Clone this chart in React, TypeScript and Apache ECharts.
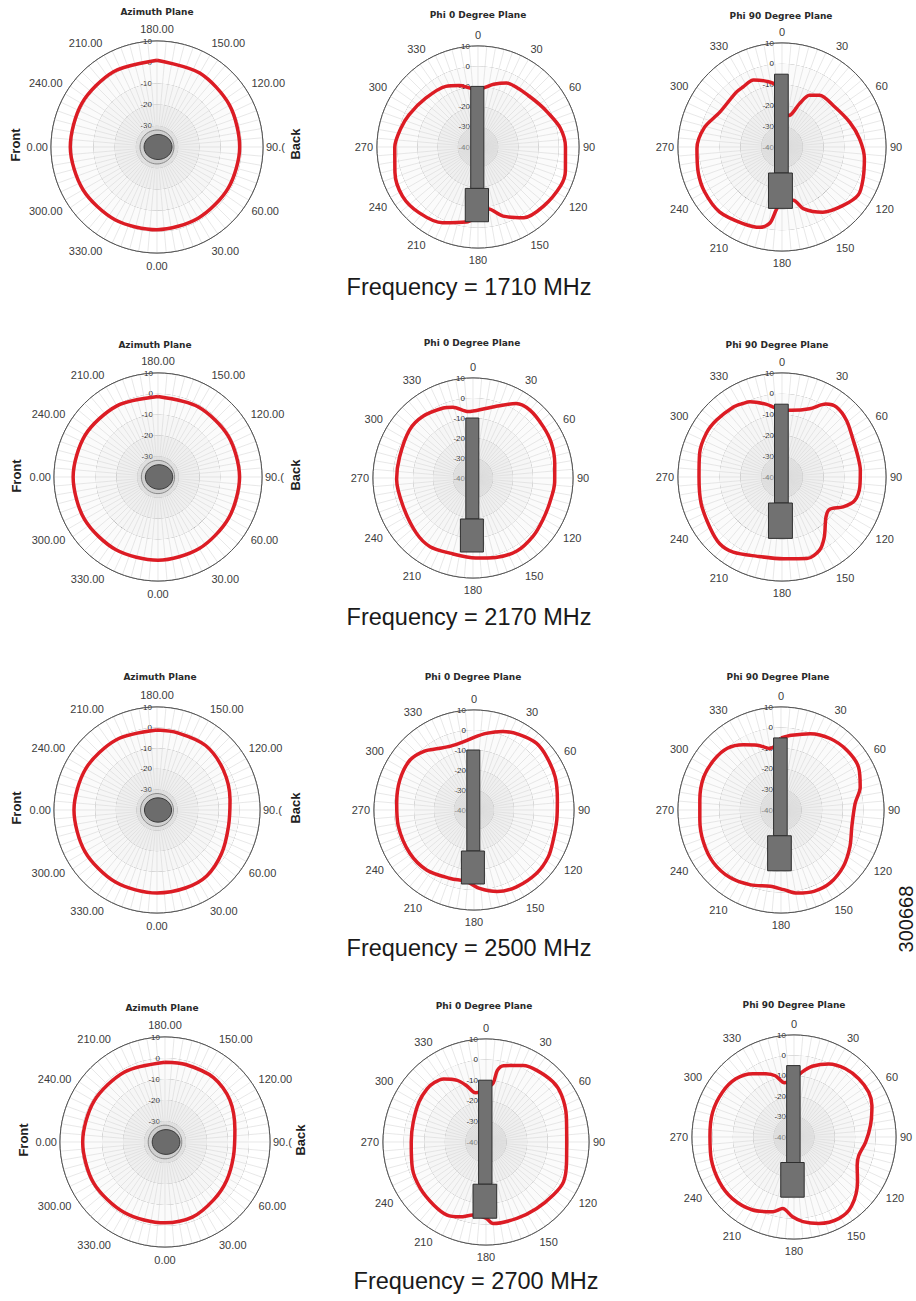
import React, { useEffect, useRef } from "react";
import * as echarts from "echarts";

type Pt = [number, number]; // [angle in degrees, gain in dB]

// ---------- text / categories ----------
const FREQUENCIES = ["1710", "2170", "2500", "2700"];
const PLANE_TITLES = ["Azimuth Plane", "Phi 0 Degree Plane", "Phi 90 Degree Plane"];
const GAIN_MIN = -40;
const GAIN_MAX = 10;
const GAIN_STEP = 10;
const AZ_TICK_LABELS: Record<number, string> = {
  0: "0.00", 30: "30.00", 60: "60.00", 90: "90.(", 120: "120.00", 150: "150.00",
  180: "180.00", 210: "210.00", 240: "240.00", 270: "0.00", 300: "300.00", 330: "330.00",
};
const SIDE_LABELS = ["Front", "Back"];
const FIGURE_ID = "300668";

// ---------- series values (angle, dB) ----------
const AZ_1710: Pt[] = [[0, -1], [30, -1.2], [60, -1.2], [90, -1], [120, -0.5], [150, 0.3], [180, 0.9], [210, 1], [240, 1], [270, 0.9], [300, 0.3], [330, -0.4]];
const PHI0_1710: Pt[] = [[0, -12], [8, -10], [14, -8], [24, -5.3], [35, -4.8], [45, -4.3], [55, -3], [63, -1.6], [77, 1.8], [90, 3.3], [105, 4.8], [115, 5.2], [132, 3.7], [147, 1.7], [160, -3.6], [171, -9], [180, -6], [189, -2.4], [205, 1.4], [222, 3.7], [237, 4.6], [253, 3], [270, 1.2], [283, -0.6], [295, -2.3], [313, -4.6], [332, -6], [343, -8.2], [350, -10]];
const PHI90_1710: Pt[] = [[0, -25], [13.6, -24.3], [22, -17.5], [28, -11.8], [36, -9.2], [51, -8.3], [70, -5.3], [84, -2.5], [98, 0], [111, 1.8], [122, 3.3], [134, 0.6], [148, -3], [161, -8.7], [168, -13.8], [180, -14], [185, -10], [189, -3], [195, 0], [207, 1.3], [224, 3.3], [240, 3], [253, 2.1], [269, 0.9], [284, -1.5], [299, -5.7], [320, -5.7], [327, -5.6], [337, -5], [347, -7.6], [354, -10.2]];

const AZ_2170: Pt[] = [[0, 0], [30, -0.3], [60, -0.7], [90, -0.8], [120, -0.9], [150, -1.1], [180, -1.3], [210, -0.5], [240, 0.4], [270, 0.8], [300, 0.8], [330, 0.4]];
const PHI0_2170: Pt[] = [[0, -6.5], [3, -6.2], [18, -2.3], [30, 3], [40, 4.3], [54, 3.5], [66, 2.9], [80, 1.5], [93, 0.9], [108, 0.3], [121, 0.7], [134, 1.8], [149, 2.6], [164, 1.3], [178, 0], [197, -0.7], [212, 0.5], [226, -0.5], [248, -2.3], [269, -1.8], [286, -1.8], [307, -0.2], [321, -0.3], [337, -2], [344, -3.2], [356, -6.7]];
const PHI90_2170: Pt[] = [[0, -7.5], [8, -7.6], [22, -4.6], [31, 0.9], [38, 2.6], [49, 1.2], [63, -1.5], [75, -2.2], [85, -2.2], [97, -2.3], [108, -3.3], [116, -7.3], [124, -12.3], [132, -11.5], [145, -4.6], [153, -0.4], [163, 1], [179, -0.7], [198, 0], [213, 3.1], [223, 3.9], [235, 2.3], [252, 0.9], [270, -0.1], [286, 1.2], [300, 2], [311, 1.7], [325, 1], [332, 0], [337, -0.7], [348, -4.3], [354, -6.5]];

const AZ_2500: Pt[] = [[0, 0.3], [20, 0.3], [37, 0.1], [56, -2.2], [77, -4.4], [98, -4.2], [121, -2.4], [143, -0.8], [165, -1.2], [180, -1.2], [210, -0.6], [240, 0], [270, 0.3], [300, 0.4], [330, 0.4]];
const PHI0_2500: Pt[] = [[0, -3.7], [9, -1.2], [20, 1.8], [31, 4], [43, 5.7], [54, 5], [68, 3.8], [83, 2], [97, 1.7], [111, 2.4], [122, 3.9], [135, 4.5], [151, 3.9], [164, 2.4], [176, -0.7], [186, -4], [199, -3.8], [218, -1.8], [236, -1.3], [258, -1.3], [275, -1.2], [292, 0], [308, 0.6], [320, -1.5], [330, -4.5], [340, -6], [351, -5.5]];
const PHI90_2500: Pt[] = [[0, -5], [8, -3.4], [21, -0.3], [34.5, 2.1], [48, 3.2], [61, 3], [74, 0], [85, -3.9], [103, -4.7], [118, -2.1], [132, 0.8], [146, 2.7], [158, 2.6], [169, 1.1], [178, -1.3], [188, -2.6], [202, -0.8], [217, 1.1], [232, 1.6], [247, 0.8], [263, -0.3], [277, -0.3], [293, 0.8], [307, 0.6], [319, -0.3], [330, -3.4], [340, -6.5], [350, -9.7]];

const AZ_2700: Pt[] = [[0, -1.5], [20, -1.9], [40, -4], [58, -5.4], [78, -6.7], [100, -6.2], [123, -3.2], [143, -1.6], [165, -1.8], [180, -2], [210, -1.5], [240, -1], [270, -0.8], [300, -0.8], [330, -1.2]];
const PHI0_2700: Pt[] = [[0, -14], [7, -11], [9, -4.8], [13, -2], [26, 1.3], [35, 2.6], [48, 3.7], [58, 3.2], [72, 1], [88, -0.8], [104, 0.3], [117, 2.3], [128, 1.6], [143, 0.6], [158, 0], [175, -0.3], [180, -3], [190, -4], [199, -1.6], [208, 0.2], [220, -0.3], [235, -1], [250, -2], [270, -3.7], [285, -3.4], [301, -2.1], [312, -1.5], [319, -1.8], [326, -3.1], [335, -7], [341, -11.1], [348, -15.6]];
const PHI90_2700: Pt[] = [[0, -12], [7, -8], [14.5, -4.2], [25.5, -0.3], [37, 1.9], [48, 2.7], [59, 2.7], [68, 1.2], [81, -2], [94, -4.8], [106, -7], [114, -6.1], [125, -2], [140, 4], [151, 5.6], [164, 4.1], [174, 1.7], [181, -0.9], [189, -4.5], [196, -1.9], [210, 1.2], [225, 2.7], [239, 2.7], [255, 2], [271, 1.2], [287, 1.7], [302, 1.4], [315, 0.3], [327, -3], [336, -6.1], [343, -8.6], [350, -13]];

const PLOT_DATA: Pt[][] = [
  AZ_1710, PHI0_1710, PHI90_1710,
  AZ_2170, PHI0_2170, PHI90_2170,
  AZ_2500, PHI0_2500, PHI90_2500,
  AZ_2700, PHI0_2700, PHI90_2700,
];
const PLANE_KINDS = ["az", "phi0", "phi90"];

// ---------- layout (positions / sizes) ----------
const CENTERS = [[157, 147], [478, 147], [782, 147], [158, 477], [473, 478], [782, 477], [157, 810], [474, 810], [781, 810], [165, 1142], [486, 1142], [794, 1137]];
const RADII = [106, 101, 104, 104, 100, 104, 103, 100, 103, 105, 103, 102];
const TITLE_POS = [[157, 12], [478, 15], [781, 16], [155, 345], [472, 343], [777, 345], [160, 677], [473, 677], [778, 677], [162, 1008], [484, 1006], [794, 1005]];
const FREQ_POS = [[469, 287], [469, 617], [469, 948], [476, 1281]];
const FRONT_POS = [[15, 145], [16, 476], [16, 808], [23, 1140]];
const BACK_POS = [[295, 144], [295, 475], [295, 808], [300, 1140]];

// antenna outline, in gain units relative to the plot centre (y up)
const ANTENNA: Record<string, { x0: number; x1: number; y0: number; y1: number }[]> = {
  phi0: [
    { x0: -3.6, x1: 2.9, y0: 30, y1: -20.5 },
    { x0: -6.3, x1: 5.2, y0: -20.5, y1: -37 },
  ],
  phi90: [
    { x0: -3.6, x1: 3, y0: 35, y1: -12.5 },
    { x0: -6.5, x1: 5, y0: -12.5, y1: -29.5 },
  ],
};

const SPOKE = "#d9d9d9";
const RING = "#555555";
const RED = "#dc1c24";
const LABEL_FONT = "Liberation Sans, Arial, sans-serif";

function buildOption() {
  const polar: any[] = [];
  const angleAxis: any[] = [];
  const radiusAxis: any[] = [];
  const series: any[] = [];

  PLOT_DATA.forEach((pts, i) => {
    const kind = PLANE_KINDS[i % 3];
    const isAz = kind === "az";
    polar.push({ center: CENTERS[i], radius: RADII[i] });
    angleAxis.push({
      polarIndex: i,
      type: "value",
      min: isAz ? 180 : 0,
      max: isAz ? 540 : 360,
      interval: 30,
      startAngle: 90,
      clockwise: !isAz,
      z: 1,
      axisLine: { show: true, lineStyle: { color: RING, width: 1 } },
      axisTick: { show: false },
      axisLabel: {
        margin: isAz ? 3 : 4,
        padding: isAz ? [4, 0, 4, 0] : [2, 0, 2, 0],
        fontSize: 11,
        color: "#3c3c3c",
        fontFamily: LABEL_FONT,
        formatter: (v: number) => {
          const a = ((v % 360) + 360) % 360;
          return isAz ? AZ_TICK_LABELS[a] : String(a);
        },
      },
      splitLine: { show: true, lineStyle: { color: SPOKE, width: 0.6 } },
      minorTick: { show: false, splitNumber: 6 },
      minorSplitLine: { show: true, lineStyle: { color: SPOKE, width: 0.6 } },
    });
    radiusAxis.push({
      polarIndex: i,
      type: "value",
      min: GAIN_MIN,
      max: GAIN_MAX,
      interval: GAIN_STEP,
      z: 0,
      axisLine: { show: false },
      axisTick: { show: false },
      axisLabel: { fontSize: 8, margin: isAz ? 5 : 8, color: "#2a2a2a", fontFamily: LABEL_FONT },
      splitLine: { show: true, lineStyle: { color: RING, width: 0.9 } },
      splitArea: { show: true, areaStyle: { color: ["#e3e3e3", "#efefef", "#f6f6f6", "#fbfbfb", "#ffffff"] } },
    });

    // convert to [dB, angle] in the axis range and close the loop
    let conv: [number, number][] = pts.map(([a, g]) => [g, isAz && a < 180 ? a + 360 : a]);
    conv.sort((p, q) => p[1] - q[1]);
    conv = conv.concat([[conv[0][0], conv[0][1] + 360]]);

    series.push({
      type: "line",
      coordinateSystem: "polar",
      polarIndex: i,
      data: conv,
      showSymbol: false,
      smooth: 0.3,
      silent: true,
      z: 3,
      lineStyle: { color: RED, width: 3.5 },
    });

    const refAngle = isAz ? 180 : 0;
    series.push({
      type: "custom",
      coordinateSystem: "polar",
      polarIndex: i,
      data: [[GAIN_MIN, refAngle]],
      silent: true,
      z: 4,
      renderItem: (_params: any, api: any) => {
        const c = api.coord([GAIN_MIN, refAngle]);
        const e = api.coord([GAIN_MAX, refAngle]);
        const u = Math.hypot(e[0] - c[0], e[1] - c[1]) / (GAIN_MAX - GAIN_MIN);
        if (isAz) {
          return {
            type: "group",
            children: [
              { type: "circle", shape: { cx: c[0], cy: c[1], r: 8 * u }, style: { fill: "#d0d0d0", stroke: "#8a8a8a", lineWidth: 1 } },
              { type: "ellipse", shape: { cx: c[0] + 0.5 * u, cy: c[1], rx: 6.6 * u, ry: 5.9 * u }, style: { fill: "#6c6c6c", stroke: "#3a3a3a", lineWidth: 1 } },
            ],
          };
        }
        return {
          type: "group",
          children: ANTENNA[kind].map((p) => ({
            type: "rect",
            shape: { x: c[0] + p.x0 * u, y: c[1] - p.y0 * u, width: (p.x1 - p.x0) * u, height: (p.y0 - p.y1) * u },
            style: { fill: "#717171", stroke: "#2e2e2e", lineWidth: 1 },
          })),
        };
      },
    });
  });

  const text = (x: number, y: number, t: string, size: number, weight: string, family: string, rotation = 0, fill = "#222") => ({
    type: "text",
    x,
    y,
    rotation,
    silent: true,
    style: { text: t, fontSize: size, fontWeight: weight, fontFamily: family, fill, align: "center", verticalAlign: "middle" },
  });

  const elements: any[] = [];
  TITLE_POS.forEach((p, i) => elements.push(text(p[0], p[1], PLANE_TITLES[i % 3], 9, "bold", "DejaVu Sans, sans-serif", 0, "#2a2a2a")));
  FREQUENCIES.forEach((f, r) => {
    elements.push(text(FREQ_POS[r][0], FREQ_POS[r][1], `Frequency = ${f} MHz`, 23.5, "normal", LABEL_FONT, 0, "#1a1a1a"));
    elements.push(text(FRONT_POS[r][0], FRONT_POS[r][1], SIDE_LABELS[0], 13, "bold", LABEL_FONT, Math.PI / 2));
    elements.push(text(BACK_POS[r][0], BACK_POS[r][1], SIDE_LABELS[1], 13, "bold", LABEL_FONT, Math.PI / 2));
  });
  elements.push(text(906, 919, FIGURE_ID, 20, "normal", LABEL_FONT, Math.PI / 2, "#1a1a1a"));

  return {
    animation: false,
    backgroundColor: "#ffffff",
    polar,
    angleAxis,
    radiusAxis,
    series,
    graphic: { elements },
  };
}

export default function App() {
  const ref = useRef<HTMLDivElement>(null);
  useEffect(() => {
    if (!ref.current) return;
    const chart = echarts.init(ref.current, null, { renderer: "svg" });
    chart.setOption(buildOption() as any);
    return () => chart.dispose();
  }, []);
  return <div ref={ref} style={{ position: "absolute", left: 0, top: 0, width: 916, height: 1301 }} />;
}
